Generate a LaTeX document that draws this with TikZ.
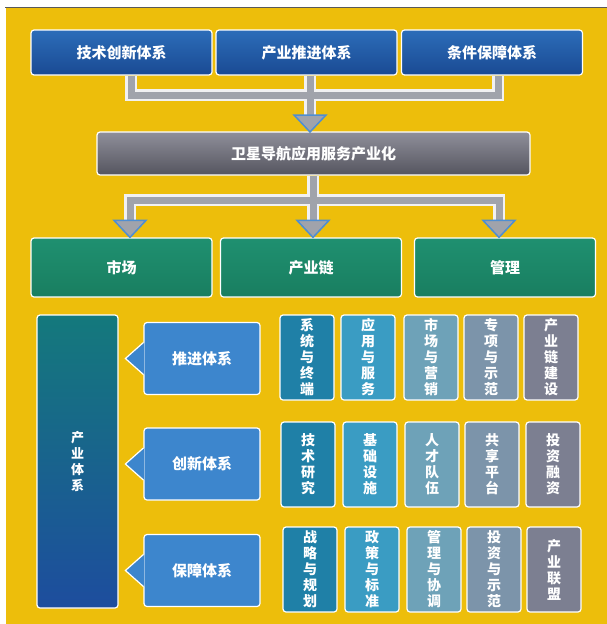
\documentclass[tikz,border=0pt]{standalone}
\usepackage{fontspec}
\setmainfont{Noto Sans CJK SC}
\usetikzlibrary{calc}
\definecolor{bgyellow}{HTML}{EDBE0B}
\definecolor{topA}{HTML}{2C6DB9}
\definecolor{topB}{HTML}{1A4A93}
\definecolor{hubA}{HTML}{8F8F9A}
\definecolor{hubB}{HTML}{55555F}
\definecolor{grnA}{HTML}{1F9070}
\definecolor{grnB}{HTML}{197E60}
\definecolor{indA}{HTML}{14797C}
\definecolor{indB}{HTML}{1D4D9E}
\definecolor{callblue}{HTML}{3D86CD}
\definecolor{pipeblue}{HTML}{4E8ED2}
\definecolor{pipegray}{HTML}{A0A3AB}
\definecolor{colA}{HTML}{1F80A7}
\definecolor{colB}{HTML}{3A9CC3}
\definecolor{colC}{HTML}{6EA2B8}
\definecolor{colD}{HTML}{7C94AA}
\definecolor{colE}{HTML}{7C7F91}
\tikzset{
  box/.style={rounded corners=3pt, draw=white, line width=1.2pt, inner sep=0pt,
    text=white, font=\fontsize{15}{18}\selectfont\bfseries},
  topbox/.style={box, top color=topA, bottom color=topB, minimum width=181, minimum height=45},
  hubbox/.style={box, top color=hubA, bottom color=hubB, minimum width=433, minimum height=43},
  grnbox/.style={box, top color=grnA, bottom color=grnB, minimum width=181, minimum height=59},
  callbox/.style={box, fill=callblue, minimum width=116, minimum height=72},
  cell/.style={box, fill=#1, minimum width=54, minimum height=85, align=center,
    font=\fontsize{14}{16}\selectfont\bfseries},
  pipe/.style={draw=pipegray, line width=7pt, line join=miter,
    preaction={draw=pipeblue, line width=10pt},
    preaction={draw=white!85!pipegray, line width=12pt}},
  pipehead/.style={fill=pipegray, draw=pipeblue, line width=1.5pt, line join=miter}
}
\newcommand\pipetip[1]{\filldraw[pipehead] #1 -- ++(-16,-17) -- ++(32,0) -- cycle;}
\begin{document}
\begin{tikzpicture}[x=1pt,y=-1pt]
\useasboundingbox (0,0) rectangle (607,624);
\fill[white] (0,0) rectangle (607,624);
\fill[bgyellow] (6,8) rectangle (607,624);
\draw[gray!70!black, line width=0.8pt] (5,7) -- (607,7);

% top row
\node[topbox] (tech) at (121.5,52.5) {技术创新体系};
\node[topbox] (push) at (306.5,52.5) {产业推进体系};
\node[topbox] (cond) at (492,52.5) {条件保障体系};
\node[hubbox] (hub) at (313.5,153.5) {卫星导航应用服务产业化};
\node[grnbox] (mkt) at (121.5,267.5) {市场};
\node[grnbox] (chain) at (311,267.5) {产业链};
\node[grnbox] (mgmt) at (505,267.5) {管理};

% pipes into the hub
\coordinate (j1) at (131,95);
\coordinate (j2) at (310,95);
\coordinate (j3) at (498,95);
\coordinate (h1) at (310,132);
\draw[pipe] (tech.south -| j1) -- (j1) -- (j3) -- (cond.south -| j3)
  (push.south -| j2) -- ($(h1)+(0,-17)$);
\pipetip{(h1)}

% pipes out of the hub
\coordinate (k1) at (130,200);
\coordinate (k2) at (313,200);
\coordinate (k3) at (499,200);
\draw[pipe] ($(k1 |- mkt.north)+(0,-17)$) -- (k1) -- (k3) -- ($(k3 |- mgmt.north)+(0,-17)$)
  (hub.south -| k2) -- ($(k2 |- chain.north)+(0,-17)$);
\pipetip{(k1 |- mkt.north)}
\pipetip{(k2 |- chain.north)}
\pipetip{(k3 |- mgmt.north)}

% industry system
\node[box, top color=indA, bottom color=indB, minimum width=81, minimum height=293,
  align=center, font=\fontsize{13}{16}\selectfont\bfseries] (ind) at (77.5,461.5)
  {产\\业\\体\\系};
\foreach \n/\y/\t in {pa/358.5/推进体系, pb/464/创新体系, pc/570.5/保障体系}{
  \node[callbox] (\n) at (202,\y) {\t};
  \fill[callblue] ($(\n.west)+(1,-16)$) -- ($(\n.west)+(-18,0)$) -- ($(\n.west)+(1,16)$) -- cycle;
  \draw[white, line width=1.2pt, line join=miter] ($(\n.west)+(0,-16)$) -- ($(\n.west)+(-18,0)$) -- ($(\n.west)+(0,16)$);
}

% cells
\node[cell=colA] (c11) at (307,357.5) {系\\统\\与\\终\\端};
\node[cell=colB] (c12) at (368,357.5) {应\\用\\与\\服\\务};
\node[cell=colC] (c13) at (431,357.5) {市\\场\\与\\营\\销};
\node[cell=colD] (c14) at (491,357.5) {专\\项\\与\\示\\范};
\node[cell=colE] (c15) at (551,357.5) {产\\业\\链\\建\\设};
\node[cell=colA] (c21) at (308,464.5) {技\\术\\研\\究};
\node[cell=colB] (c22) at (370,464.5) {基\\础\\设\\施};
\node[cell=colC] (c23) at (432,464.5) {人\\才\\队\\伍};
\node[cell=colD] (c24) at (492,464.5) {共\\享\\平\\台};
\node[cell=colE] (c25) at (553,464.5) {投\\资\\融\\资};
\node[cell=colA] (c31) at (310,569.5) {战\\略\\与\\规\\划};
\node[cell=colB] (c32) at (372,569.5) {政\\策\\与\\标\\准};
\node[cell=colC] (c33) at (434,569.5) {管\\理\\与\\协\\调};
\node[cell=colD] (c34) at (494,569.5) {投\\资\\与\\示\\范};
\node[cell=colE] (c35) at (554,569.5) {产\\业\\联\\盟};
\end{tikzpicture}
\end{document}
